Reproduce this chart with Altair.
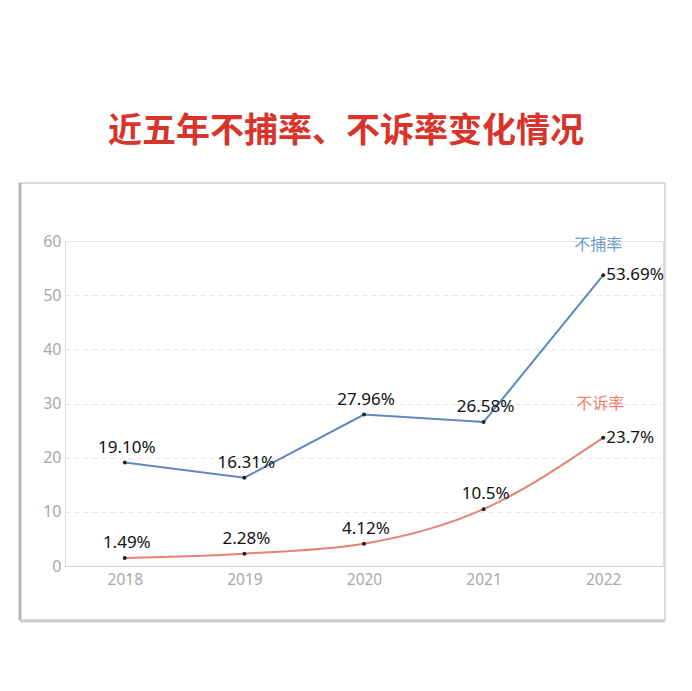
import altair as alt
import pandas as pd

years = ["2018", "2019", "2020", "2021", "2022"]
arrest_rates = [19.10, 16.31, 27.96, 26.58, 53.69]
arrest_labels = ["19.10%", "16.31%", "27.96%", "26.58%", "53.69%"]
prosecute_rates = [1.49, 2.28, 4.12, 10.5, 23.7]
prosecute_labels = ["1.49%", "2.28%", "4.12%", "10.5%", "23.7%"]
series_names = ["不捕率", "不诉率"]
y_ticks = [0, 10, 20, 30, 40, 50, 60]
title_text = "近五年不捕率、不诉率变化情况"

BLUE = "#5f87c2"
RED = "#e58472"
BLUE_T = "#6f9bd0"
RED_T = "#e8846f"

df_a = pd.DataFrame({"year": years, "value": arrest_rates, "label": arrest_labels, "series": series_names[0]})
df_p = pd.DataFrame({"year": years, "value": prosecute_rates, "label": prosecute_labels, "series": series_names[1]})
df_all = pd.concat([df_a, df_p], ignore_index=True)

x_enc = alt.X(
    "year:O",
    scale=alt.Scale(type="point", padding=0.5),
    axis=alt.Axis(
        title=None, labelAngle=0, ticks=False, domain=True, domainColor="#d0d0d0",
        domainWidth=1.2, labelColor="#a8a8a8", labelFontSize=15.5, labelFont="Noto Sans",
        labelPadding=6, grid=False,
    ),
)
y_enc = alt.Y(
    "value:Q",
    scale=alt.Scale(domain=[0, 60], nice=False),
    axis=alt.Axis(
        title=None, values=y_ticks, ticks=False, domain=False, labelColor="#a8a8a8",
        labelFontSize=16, labelFont="Noto Sans", labelPadding=4, grid=True,
        gridColor="#e6e6e6", gridDash=[5, 4], gridWidth=1,
    ),
)

frame_df = pd.DataFrame({"k": [0]})
frame = alt.Chart(frame_df).mark_rect(fill=None, stroke="#d2d2d2", strokeWidth=1.5).encode(
    x=alt.value(-45), x2=alt.value(600), y=alt.value(-58), y2=alt.value(379)
)
frame_left = alt.Chart(frame_df).mark_rule(color="#b5b5b5", strokeWidth=3).encode(
    x=alt.value(-45), y=alt.value(-58), y2=alt.value(379)
)
frame_bottom = alt.Chart(frame_df).mark_rule(color="#cfcfcf", strokeWidth=3).encode(
    x=alt.value(-45), x2=alt.value(600), y=alt.value(380)
)

line_a = alt.Chart(df_a).mark_line(color=BLUE, strokeWidth=2).encode(x=x_enc, y=y_enc)
line_p = alt.Chart(df_p).mark_line(color=RED, strokeWidth=2, interpolate="monotone").encode(x=x_enc, y=y_enc)
points = alt.Chart(df_all).mark_circle(size=16, color="#222222", opacity=1).encode(x=x_enc, y=y_enc)

label_style = dict(font="Noto Sans", fontSize=17, color="#111111")
labels_mid = alt.Chart(df_all).transform_filter(alt.datum.year != "2022").mark_text(
    dy=-15, dx=2, baseline="middle", align="center", **label_style
).encode(x=x_enc, y=y_enc, text="label:N")
labels_end = alt.Chart(df_all).transform_filter(alt.datum.year == "2022").mark_text(
    dx=3, baseline="middle", align="left", **label_style
).encode(x=x_enc, y=y_enc, text="label:N")

name_a = alt.Chart(df_a).transform_filter(alt.datum.year == "2022").mark_text(
    dy=-30, dx=-5, font="Noto Sans CJK SC", fontSize=16, color=BLUE_T
).encode(x=x_enc, y=y_enc, text="series:N")
name_p = alt.Chart(df_p).transform_filter(alt.datum.year == "2022").mark_text(
    dy=-34, dx=-3, font="Noto Sans CJK SC", fontSize=16, color=RED_T
).encode(x=x_enc, y=y_enc, text="series:N")

chart = alt.layer(
    frame, frame_left, frame_bottom, line_a, line_p, points, labels_mid, labels_end, name_a, name_p
).properties(
    width=598,
    height=325,
    autosize=alt.AutoSizeParams(type="none"),
    padding={"left": 57, "top": 233, "right": 21, "bottom": 60},
    title=alt.TitleParams(
        text=title_text, font="Noto Sans CJK SC", fontSize=34, fontWeight="bold",
        color="#d9342c", anchor="middle", offset=33, dx=-18,
    ),
).configure_view(stroke=None).configure(background="white")

chart.save("out.html", embed_options={"renderer": "svg", "actions": False})
